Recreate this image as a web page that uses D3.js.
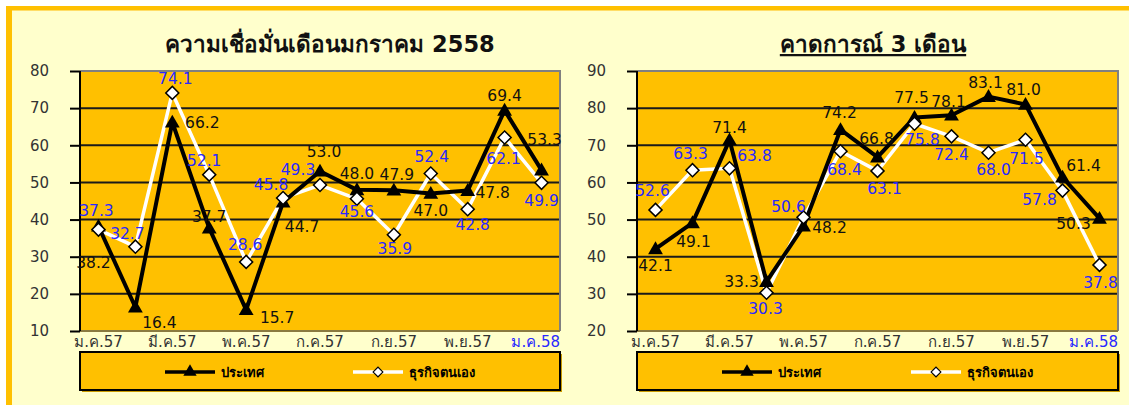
<!DOCTYPE html>
<html><head><meta charset="utf-8">
<script src="https://cdn.jsdelivr.net/npm/d3@7"></script>
<style>body{margin:0;background:#fff}svg{display:block}</style>
</head><body>
<svg id="c" width="1129" height="405"></svg>
<script>
// ---------- data ----------
const months = ["ม.ค.57","ก.พ.57","มี.ค.57","เม.ย.57","พ.ค.57","มิ.ย.57","ก.ค.57","ส.ค.57","ก.ย.57","ต.ค.57","พ.ย.57","ธ.ค.57","ม.ค.58"];
const tickMonths = ["ม.ค.57","มี.ค.57","พ.ค.57","ก.ค.57","ก.ย.57","พ.ย.57","ม.ค.58"];
const seriesNames = ["ประเทศ","ธุรกิจตนเอง"];

const titleLeft = "ความเชื่อมั่นเดือนมกราคม 2558";
const confCountry  = [38.2,16.4,66.2,37.7,15.7,44.7,53.0,48.0,47.9,47.0,47.8,69.4,53.3];
const confBusiness = [37.3,32.7,74.1,52.1,28.6,45.8,49.3,45.6,35.9,52.4,42.8,62.1,49.9];
const yTicksLeft = [10,20,30,40,50,60,70,80];

const titleRight = "คาดการณ์ 3 เดือน";
const fcCountry  = [42.1,49.1,71.4,33.3,48.2,74.2,66.8,77.5,78.1,83.1,81.0,61.4,50.3];
const fcBusiness = [52.6,63.3,63.8,30.3,50.6,68.4,63.1,75.8,72.4,68.0,71.5,57.8,37.8];
const yTicksRight = [20,30,40,50,60,70,80,90];

// ---------- label placement (style) ----------
const offConfCountry  = [[-5,36],[24,15],[30,0],[0,-12],[31,8],[19,24],[4,-20],[0,-16],[3,-16],[0,17],[25,2],[0,-15],[3,-31]];
const offConfBusiness = [[-2,-19],[-8,-13],[3,-14],[-5,-14],[-1,-17],[-12,-14],[-22,-16],[0,13],[1,14],[1,-17],[5,15],[-1,21],[0,18]];
const offFcCountry    = [[0,17],[1,19],[0,-13],[-25,0],[26,1],[-1,-17],[-1,-19],[-3,-20],[-3,-14],[-3,-14],[-2,-15],[21,-12],[-26,5]];
const offFcBusiness   = [[-3,-19],[-2,-17],[25,-13],[-1,16],[-15,-11],[4,18],[7,18],[8,16],[0,18],[5,17],[1,19],[-23,9],[1,18]];

const ORANGE = "#FFC000", PANEL = "#FFFFCC", BLUE = "#2828FF";
const FONT = "Tahoma, Verdana, 'DejaVu Sans', 'Noto Sans', sans-serif";
const NUMFONT = "Verdana, 'DejaVu Sans', sans-serif";

const svg = d3.select("#c");
svg.append("rect").attr("width",1129).attr("height",405).attr("fill","#fff");
svg.append("rect").attr("x",6).attr("y",6).attr("width",1123).attr("height",399).attr("fill",PANEL);
svg.append("rect").attr("x",6).attr("y",6).attr("width",1123).attr("height",4).attr("fill",ORANGE);
svg.append("rect").attr("x",6).attr("y",10).attr("width",1123).attr("height",1).attr("fill","#FFDD66");
svg.append("rect").attr("x",6).attr("y",6).attr("width",6).attr("height",399).attr("fill",ORANGE);

function drawChart(cfg){
  const g = svg.append("g");
  const x = d3.scaleBand().domain(months).range([cfg.x0, cfg.x1]);
  const cx = m => x(m) + x.bandwidth()/2;
  const y = d3.scaleLinear().domain(cfg.yDomain).range([331, 71]);

  g.append("rect").attr("x",cfg.x0).attr("y",71).attr("width",cfg.x1-cfg.x0).attr("height",260).attr("fill",ORANGE);
  g.append("g").selectAll("line").data(cfg.yTicks.slice(1,-1)).join("line")
    .attr("x1",cfg.x0).attr("x2",cfg.x1).attr("y1",d=>y(d)).attr("y2",d=>y(d))
    .attr("stroke","#1a1a1a").attr("stroke-width",2);
  g.append("path").attr("d",`M${cfg.x0},${y(cfg.yDomain[1])}H${cfg.x1}V331`)
    .attr("fill","none").attr("stroke","#808080").attr("stroke-width",2);
  g.append("line").attr("x1",cfg.x0).attr("x2",cfg.x1).attr("y1",331).attr("y2",331)
    .attr("stroke","#8a7a40").attr("stroke-width",2);

  const ya = g.append("g").attr("transform",`translate(${cfg.x0},0)`)
    .call(d3.axisLeft(y).tickValues(cfg.yTicks).tickSize(10).tickPadding(21).tickFormat(d3.format("d")));
  ya.select(".domain").attr("stroke","#000").attr("stroke-width",2).attr("d",`M0,${y(cfg.yDomain[1])}V331`);
  ya.selectAll(".tick line").attr("stroke","#000").attr("stroke-width",2);
  ya.selectAll(".tick text").attr("font-family",NUMFONT).attr("font-size",15).attr("fill","#333");

  const xa = g.append("g").attr("transform",`translate(0,331)`)
    .call(d3.axisBottom(x).tickValues(tickMonths).tickSize(0).tickPadding(5));
  xa.select(".domain").remove();
  xa.selectAll(".tick text").attr("font-family",FONT).attr("font-size",15).attr("fill","#333");
  const last = months[months.length-1];
  xa.selectAll(".tick").filter(d=>d===last).select("text")
    .attr("fill",BLUE).attr("text-anchor","end").attr("x", cfg.x1 - cx(last) );

  const line = vals => d3.line().x((d,i)=>cx(months[i])).y(d=>y(d))(vals);
  g.append("path").attr("d",line(cfg.s2)).attr("fill","none").attr("stroke","#fff").attr("stroke-width",3.5).attr("stroke-linejoin","round");
  g.append("path").attr("d",line(cfg.s1)).attr("fill","none").attr("stroke","#000").attr("stroke-width",4).attr("stroke-linejoin","round");
  const tri = d3.symbol().type(d3.symbolTriangle).size(95)();
  const dia = d3.symbol().type(d3.symbolSquare).size(85)();
  g.append("g").selectAll("path").data(cfg.s1).join("path").attr("d",tri)
    .attr("transform",(d,i)=>`translate(${cx(months[i])},${y(d)+1})`).attr("fill","#000");
  g.append("g").selectAll("path").data(cfg.s2).join("path").attr("d",dia)
    .attr("transform",(d,i)=>`translate(${cx(months[i])},${y(d)}) rotate(45)`)
    .attr("fill","#fff").attr("stroke","#000").attr("stroke-width",1.5);

  const lbl = (vals, offs, color) => g.append("g").selectAll("text").data(vals).join("text")
    .attr("x",(d,i)=>cx(months[i])+offs[i][0]).attr("y",(d,i)=>y(d)+offs[i][1]).attr("dy","0.36em")
    .attr("text-anchor","middle").attr("font-family",NUMFONT).attr("font-size",15.5)
    .attr("fill",color).text(d=>d3.format(".1f")(d));
  lbl(cfg.s1, cfg.o1, "#111");
  lbl(cfg.s2, cfg.o2, BLUE);

  const t = g.append("text").attr("x",(cfg.tx)).attr("y",52).attr("text-anchor","middle")
    .attr("font-family",FONT).attr("font-size",22.5).attr("font-weight","bold").attr("fill","#111").text(cfg.title);
  if(cfg.underline) t.attr("text-decoration","underline");

  const L = g.append("g");
  L.append("rect").attr("x",cfg.x0+2).attr("y",354).attr("width",cfg.x1-cfg.x0).attr("height",38).attr("fill","#c99a00");
  L.append("rect").attr("x",cfg.x0).attr("y",352).attr("width",cfg.x1-cfg.x0).attr("height",38)
    .attr("fill",ORANGE).attr("stroke","#000").attr("stroke-width",2);
  const ly = 372;
  const items = [
    {x: cfg.lg[0], stroke:"#000", sym:tri, fill:"#000", name:seriesNames[0]},
    {x: cfg.lg[1], stroke:"#fff", sym:dia, fill:"#fff", name:seriesNames[1]}
  ];
  items.forEach((it,k)=>{
    L.append("line").attr("x1",it.x-25).attr("x2",it.x+25).attr("y1",ly).attr("y2",ly).attr("stroke",it.stroke).attr("stroke-width",3.5);
    L.append("path").attr("d",it.sym)
      .attr("fill",it.fill).attr("stroke",k===1?"#000":"none").attr("stroke-width",1.5)
      .attr("transform",`translate(${it.x},${ly}) scale(${k===0?0.9:0.75})${k===1?" rotate(45)":""}`);
    L.append("text").attr("x",it.x+31).attr("y",ly).attr("dy","0.36em").attr("font-family",FONT)
      .attr("font-size",13).attr("font-weight","bold").attr("fill","#000").text(it.name);
  });
}

drawChart({x0:80, x1:560, yDomain:[10,80], yTicks:yTicksLeft, s1:confCountry, s2:confBusiness,
  o1:offConfCountry, o2:offConfBusiness, title:titleLeft, tx:330, underline:false, lg:[190,378]});
drawChart({x0:637, x1:1118, yDomain:[20,90], yTicks:yTicksRight, s1:fcCountry, s2:fcBusiness,
  o1:offFcCountry, o2:offFcBusiness, title:titleRight, tx:873, underline:true, lg:[747,936]});
</script>
</body></html>
